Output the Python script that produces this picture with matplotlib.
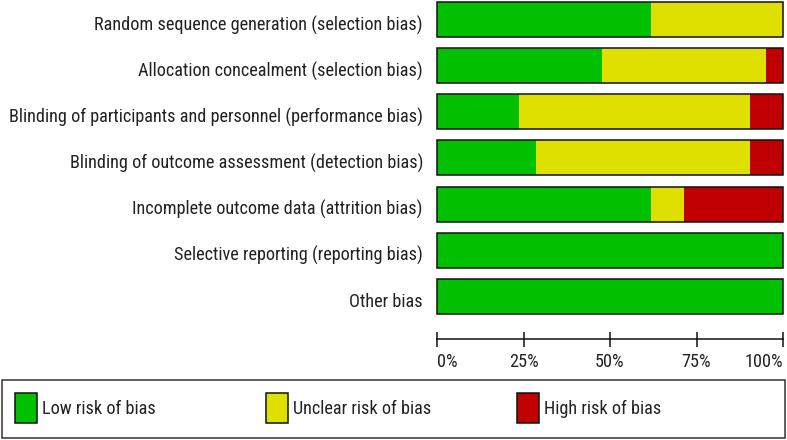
import matplotlib
matplotlib.use('Agg')
import matplotlib.pyplot as plt
from matplotlib.patches import Rectangle
from matplotlib import font_manager as fm
import matplotlib.transforms as mtransforms
import numpy as np

# ---- data ----
domains = [
    "Random sequence generation (selection bias)",
    "Allocation concealment (selection bias)",
    "Blinding of participants and personnel (performance bias)",
    "Blinding of outcome assessment (detection bias)",
    "Incomplete outcome data (attrition bias)",
    "Selective reporting (reporting bias)",
    "Other bias",
]
low = [61.9, 47.6, 23.8, 28.6, 61.9, 100.0, 100.0]
unclear = [38.1, 47.6, 66.7, 61.9, 9.5, 0.0, 0.0]
high = [0.0, 4.8, 9.5, 9.5, 28.6, 0.0, 0.0]
legend_labels = ["Low risk of bias", "Unclear risk of bias", "High risk of bias"]
xticks = [0, 25, 50, 75, 100]
xtick_labels = ["0%", "25%", "50%", "75%", "100%"]
colors = ["#00C000", "#E0E000", "#C00000"]

TXT = '#222222'
W, H = 787, 440
fig = plt.figure(figsize=(W / 100, H / 100), dpi=100)

# ---- pick a narrow font if one is installed ----
def find_narrow():
    prefs = ['liberation sans narrow', 'arial narrow', 'roboto condensed',
             'dejavu sans condensed', 'open sans condensed', 'noto sans condensed']
    found = {}
    for f in fm.fontManager.ttflist:
        key = (f.name + ' ' + f.fname.split('/')[-1]).lower()
        if f.style != 'normal':
            continue
        if any(b in key for b in ['bold', 'light', 'thin', 'medium', 'black', 'semi', 'extra', 'italic', 'oblique']):
            continue
        if 'narrow' in key or 'condensed' in key:
            for p in prefs:
                if p.split()[0] in key:
                    found.setdefault(p, f.fname)
    for p in prefs:
        if p in found:
            return fm.FontProperties(fname=found[p])
    return fm.FontProperties(family='Liberation Sans')

base = find_narrow()
renderer = fig.canvas.get_renderer()

def text_width(s):
    t = fig.text(0, 0, s, fontproperties=base, fontsize=14)
    w = t.get_window_extent(renderer).width
    t.remove()
    return w

FS = min(14 * 341.0 / text_width(domains[0]),
         14 * 419.0 / text_width(max(domains, key=len)),
         14.5)
fp = base.copy()
fp.set_size(FS)
px = FS * 100 / 72.0  # font size in pixels

ax = fig.add_axes([437 / W, 1 - 339.3 / H, 346 / W, 339.3 / H])

low_a = np.array(low)
unc_a = np.array(unclear)
high_a = np.array(high)
y = np.arange(len(domains))
bh = 0.76
ax.barh(y, low_a, height=bh, color=colors[0], linewidth=0)
ax.barh(y, unc_a, left=low_a, height=bh, color=colors[1], linewidth=0)
ax.barh(y, high_a, left=low_a + unc_a, height=bh, color=colors[2], linewidth=0)
outline = ax.barh(y, low_a + unc_a + high_a, height=bh, fill=False,
                  edgecolor='#111111', linewidth=1.1)
for p in outline:
    p.set_clip_on(False)

ax.set_xlim(0, 100)
ax.set_ylim(6.936, -0.4275)

for s in ['top', 'left', 'right']:
    ax.spines[s].set_visible(False)
ax.spines['bottom'].set_color('#111111')
ax.spines['bottom'].set_linewidth(1.1)
ax.set_yticks([])
ax.set_xticks(xticks)
ax.set_xticklabels(xtick_labels, fontproperties=fp, color=TXT)
ax.tick_params(axis='x', direction='inout', length=10.8, width=1.1, color='#111111',
               pad=(366.7 - 339.3 - 7.5) * 0.72)
labs = ax.get_xticklabels()
for l in labs:
    l.set_va('baseline')
labs[0].set_ha('left')
labs[-1].set_ha('right')

# category labels: baseline ~4.5 px + half cap height below bar centre
tr = mtransforms.offset_copy(ax.get_yaxis_transform(), fig=fig, x=-14,
                             y=-(4.5 + 0.36 * px), units='dots')
for yi, d in zip(y, domains):
    ax.text(0, yi, d, transform=tr, ha='right', va='baseline', fontproperties=fp, color=TXT)

# ---- legend ----
fig.add_artist(Rectangle((2 / W, 1 - 437.7 / H), 783 / W, 57.7 / H, transform=fig.transFigure,
                         fill=False, edgecolor='#333333', linewidth=1.1))
sq_x = [15, 266, 516.7]
for xs, c, lab in zip(sq_x, colors, legend_labels):
    fig.add_artist(Rectangle((xs / W, 1 - 422.7 / H), 22 / W, 30 / H, transform=fig.transFigure,
                             facecolor=c, edgecolor='#111111', linewidth=1.1))
    fig.text((xs + 27) / W, 1 - (407.9 + 0.36 * px) / H, lab, ha='left', va='baseline',
             fontproperties=fp, color=TXT)

fig.savefig('out.png', dpi=100)
